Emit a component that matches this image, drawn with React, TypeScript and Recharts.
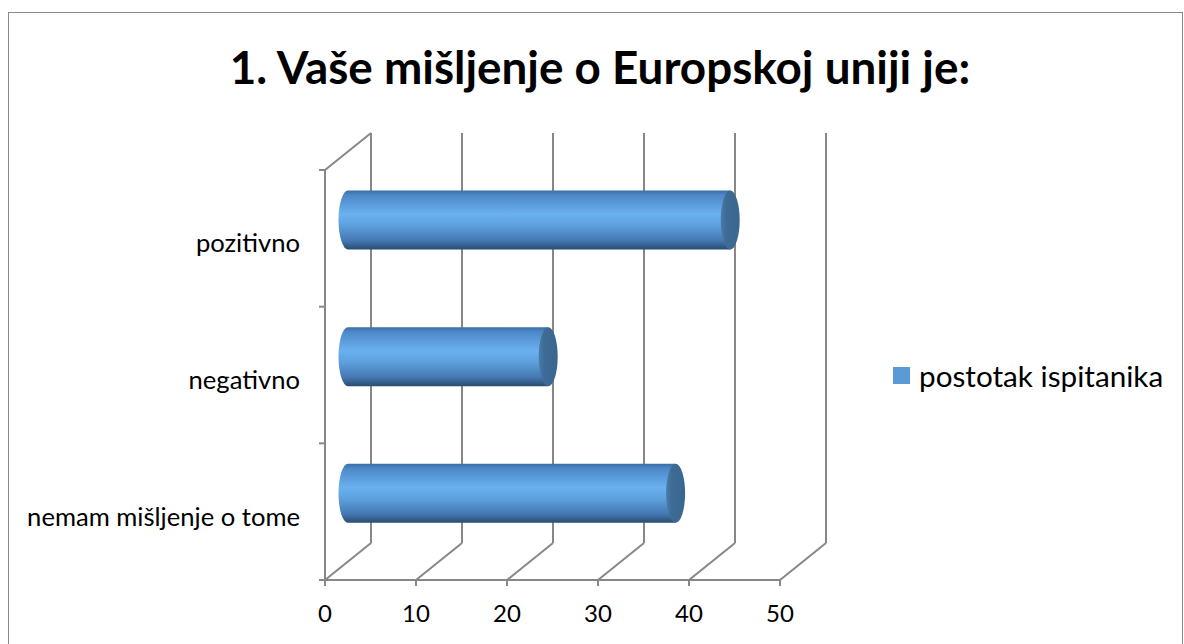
import { BarChart, Bar, XAxis, YAxis, CartesianGrid, Legend } from "recharts";

// values
const categories = ["pozitivno", "negativno", "nemam mišljenje o tome"];
const postotak = [42, 22, 36];
const xTicks = [0, 10, 20, 30, 40, 50];
const seriesName = "postotak ispitanika";
const title = "1. Vaše mišljenje o Europskoj uniji je:";

const data = categories.map((name, i) => ({ name, value: postotak[i] }));

// layout
const W = 1184;
const H = 644;
const PLOT_LEFT = 325;
const PLOT_TOP = 170;
const PLOT_RIGHT = 780;
const PLOT_BOTTOM = 580;
const PLOT_H = PLOT_BOTTOM - PLOT_TOP;
const DX = 46; // 3d depth
const DY = 37;
const AXIS = "#878787";
const LW = 2;
const FONT = "Lato, 'Open Sans', sans-serif";

function Cylinder(props: any) {
  const { x, y, width, height, index } = props;
  const rx = 9.5;
  const x0 = x + DX / 2;
  const x1 = x0 + width;
  const top = y - DY / 2;
  const bot = top + height;
  const ry = height / 2;
  const bodyId = `cylBody${index}`;
  const capId = `cylCap${index}`;
  return (
    <g>
      <defs>
        <linearGradient id={bodyId} x1="0" y1="0" x2="0" y2="1">
          <stop offset="0%" stopColor="#3b6ea6" />
          <stop offset="8%" stopColor="#4d88c8" />
          <stop offset="40%" stopColor="#6ab1f0" />
          <stop offset="60%" stopColor="#5d9fdc" />
          <stop offset="85%" stopColor="#4478b2" />
          <stop offset="100%" stopColor="#2a4b70" />
        </linearGradient>
        <linearGradient id={capId} x1="0" y1="0" x2="1" y2="0">
          <stop offset="0%" stopColor="#4a7cab" />
          <stop offset="30%" stopColor="#3d6b95" />
          <stop offset="100%" stopColor="#3a6790" />
        </linearGradient>
      </defs>
      <path
        d={`M${x0},${top} L${x1},${top} L${x1},${bot} L${x0},${bot} A${rx},${ry} 0 0 1 ${x0},${top} Z`}
        fill={`url(#${bodyId})`}
      />
      <ellipse cx={x1} cy={top + ry} rx={rx} ry={ry} fill={`url(#${capId})`} />
    </g>
  );
}

function gridLine(p: any) {
  const { x1, y1, y2 } = p;
  return (
    <g key={p.key}>
      <line x1={x1 + DX} y1={y1 - DY} x2={x1 + DX} y2={y2 - DY} stroke={AXIS} strokeWidth={LW} />
      <line x1={x1} y1={y2} x2={x1 + DX} y2={y2 - DY} stroke={AXIS} strokeWidth={LW} />
      {Math.abs(x1 - PLOT_LEFT) < 1 && (
        <line x1={x1} y1={y1} x2={x1 + DX} y2={y1 - DY} stroke={AXIS} strokeWidth={LW} />
      )}
    </g>
  );
}

function YTick(p: any) {
  const { y, payload, index } = p;
  const band = PLOT_H / categories.length;
  return (
    <g>
      <line x1={PLOT_LEFT - 6} x2={PLOT_LEFT} y1={y - band / 2} y2={y - band / 2} stroke={AXIS} strokeWidth={LW} />
      {index === categories.length - 1 && (
        <line x1={PLOT_LEFT - 6} x2={PLOT_LEFT} y1={y + band / 2} y2={y + band / 2} stroke={AXIS} strokeWidth={LW} />
      )}
      <text x={300} y={y + 5} dy="0.35em" textAnchor="end" fontSize={25.6} fill="#000" fontFamily={FONT}>
        {payload.value}
      </text>
    </g>
  );
}

function LegendBox() {
  return (
    <div style={{ display: "flex", alignItems: "center", fontFamily: FONT, fontSize: 29.7, color: "#000", whiteSpace: "nowrap" }}>
      <span style={{ width: 17, height: 17, background: "#5b9bd5", display: "inline-block", marginRight: 9 }} />
      <span>{seriesName}</span>
    </div>
  );
}

export default function App() {
  return (
    <div style={{ position: "fixed", left: 0, top: 0, width: W, height: H, overflow: "hidden", background: "#fff" }}>
      <div
        style={{
          position: "absolute",
          left: 8,
          top: 12,
          width: 1175,
          height: 700,
          border: "1px solid #8a8a8a",
          boxSizing: "border-box",
        }}
      />
      <div
        style={{
          position: "absolute",
          left: 16,
          top: 37,
          width: 1168,
          textAlign: "center",
          fontFamily: FONT,
          fontWeight: 700,
          fontSize: 45.8,
          lineHeight: "60px",
          color: "#000",
        }}
      >
        {title}
      </div>
      <div style={{ position: "absolute", left: 0, top: 0 }}>
        <BarChart
          width={W}
          height={H}
          data={data}
          layout="vertical"
          margin={{ top: PLOT_TOP, left: 25, right: W - PLOT_RIGHT, bottom: H - PLOT_BOTTOM - 40 }}
        >
          <CartesianGrid horizontal={false} vertical={gridLine} />
          <XAxis
            type="number"
            domain={[0, 50]}
            ticks={xTicks}
            height={40}
            stroke={AXIS}
            axisLine={{ stroke: AXIS, strokeWidth: LW }}
            tickLine={{ stroke: AXIS, strokeWidth: LW }}
            tickSize={6}
            tickMargin={19}
            tick={{ fill: "#000", fontSize: 24, fontFamily: FONT }}
          />
          <YAxis
            type="category"
            dataKey="name"
            width={300}
            axisLine={{ stroke: AXIS, strokeWidth: LW }}
            tickLine={false}
            tick={<YTick />}
            interval={0}
          />
          <Legend
            layout="horizontal"
            verticalAlign="middle"
            align="center"
            wrapperStyle={{ left: 893, top: 358, width: 291 }}
            content={<LegendBox />}
          />
          <Bar dataKey="value" name={seriesName} barSize={59} shape={<Cylinder />} isAnimationActive={false} />
        </BarChart>
      </div>
    </div>
  );
}
